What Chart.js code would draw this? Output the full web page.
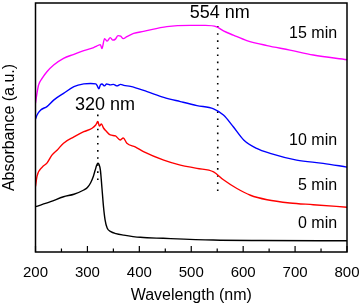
<!DOCTYPE html>
<html>
<head>
<meta charset="utf-8">
<script src="https://cdn.jsdelivr.net/npm/chart.js@4.4.0/dist/chart.umd.min.js"></script>
<style>
  html, body { margin: 0; padding: 0; background: #fff; }
  canvas { display: block; }
</style>
</head>
<body>
<canvas id="chart" width="361" height="306"></canvas>
<script>
// Espectros (nm / absorbancia en unidades arbitrarias, con offset)
const wl0  = [200, 229, 254, 274, 293, 300, 306, 311, 315, 318, 320, 322, 325, 328, 331, 334, 338, 345, 355, 370, 402, 446, 542, 633, 800];
const abs0 = [18.2, 20.2, 22.2, 23.2, 24.9, 25.9, 27.7, 30.1, 32.9, 34.9, 35.7, 35.3, 32.9, 25.7, 18.1, 12.9, 9.6, 8.2, 7.4, 6.8, 5.9, 5.5, 4.8, 4.6, 4.5];

const wl5  = [200, 203, 213, 222, 232, 242, 254, 274, 293, 309, 316, 320, 323, 327, 331, 336, 344, 354, 363, 369, 376, 392, 408, 447, 479, 511, 543, 562, 588, 614, 646, 690, 735, 800];
const abs5 = [26.3, 30.5, 34.1, 35.7, 39.0, 41.0, 43.7, 46.2, 48.3, 49.7, 51.0, 52.4, 50.6, 51.4, 49.8, 48.6, 47.0, 46.6, 45.0, 45.8, 43.7, 42.2, 40.3, 36.9, 34.9, 33.6, 32.2, 29.0, 25.5, 22.8, 21.0, 19.7, 19.0, 18.0];

const wl10  = [200, 203, 210, 222, 235, 254, 274, 293, 306, 316, 319, 322, 325, 328, 333, 337, 344, 350, 357, 364, 370, 383, 415, 447, 479, 511, 543, 562, 581, 601, 626, 652, 703, 754, 800];
const abs10 = [53.4, 55.0, 57.0, 58.4, 61.0, 63.7, 66.4, 67.5, 67.7, 67.5, 66.7, 65.5, 67.1, 67.5, 66.7, 67.5, 67.1, 67.3, 66.7, 67.3, 66.9, 66.5, 64.4, 62.1, 60.4, 58.8, 57.5, 55.0, 50.3, 45.0, 41.6, 39.6, 36.9, 35.6, 34.1];

const wl15  = [200, 203, 206, 213, 222, 235, 254, 274, 293, 312, 318, 325, 328, 333, 338, 344, 349, 354, 359, 364, 369, 376, 389, 408, 453, 498, 527, 549, 562, 581, 607, 646, 690, 735, 800];
const abs15 = [59.8, 63.9, 67.1, 69.8, 72.4, 75.1, 77.8, 79.4, 80.9, 82.1, 82.7, 83.3, 81.7, 85.7, 84.7, 86.1, 85.1, 85.5, 86.9, 86.7, 85.7, 86.5, 87.8, 88.6, 90.5, 91.0, 91.0, 90.4, 88.8, 87.1, 84.9, 82.9, 81.1, 79.1, 77.2];

// Líneas punteadas de los picos
const peakWl   = [320, 551];
const peakLow  = [28.9, 24.5];
const peakHigh = [56.2, 92.4];

const xTicks = [200, 300, 400, 500, 600, 700, 800];

const seriesNames  = ['0 min', '5 min', '10 min', '15 min'];
const seriesColors = ['#000000', '#ff0000', '#0000ff', '#ff00ff'];

const toXY = (xs, ys) => xs.map((x, i) => ({ x: x, y: ys[i] }));

const datasets = [
    toXY(wl0, abs0), toXY(wl5, abs5), toXY(wl10, abs10), toXY(wl15, abs15)
].map((d, i) => ({
    label: seriesNames[i],
    data: d,
    borderColor: seriesColors[i],
    borderWidth: 1.4,
    pointRadius: 0,
    cubicInterpolationMode: 'monotone'
}));

peakWl.forEach((w, i) => {
    datasets.push({
        label: 'peak ' + w,
        data: [{ x: w, y: peakLow[i] }, { x: w, y: peakHigh[i] }],
        borderColor: '#000',
        borderWidth: 1.6,
        borderDash: [1.6, 5.5],
        pointRadius: 0
    });
});

// Textos dentro del gráfico (posición en unidades de datos)
const notes = [
    { text: '320 nm', x: 334, y: 59.0, size: 18, align: 'center' },
    { text: '554 nm', x: 555, y: 95.9, size: 18, align: 'center' },
    { text: '15 min', x: 781, y: 87.6, size: 16, align: 'right' },
    { text: '10 min', x: 781, y: 44.6, size: 16, align: 'right' },
    { text: '5 min',  x: 781, y: 26.5, size: 16, align: 'right' },
    { text: '0 min',  x: 781, y: 11.6, size: 16, align: 'right' }
];

const FONT = "Arial, 'Liberation Sans', sans-serif";

const frameAndTicks = {
    id: 'frameAndTicks',
    afterDatasetsDraw(chart) {
        const { ctx, chartArea: a, scales: { x, y } } = chart;
        ctx.save();
        ctx.strokeStyle = '#000';
        ctx.lineWidth = 1.5;
        ctx.strokeRect(a.left, a.top, a.right - a.left, a.bottom - a.top);

        // ticks hacia dentro: mayores cada 100, menores cada 50
        ctx.lineWidth = 1.2;
        ctx.beginPath();
        for (let v = 200; v <= 800; v += 50) {
            const px = x.getPixelForValue(v);
            const len = v % 100 === 0 ? 6 : 3.5;
            ctx.moveTo(px, a.bottom);
            ctx.lineTo(px, a.bottom - len);
        }
        ctx.stroke();

        ctx.fillStyle = '#000';
        ctx.textBaseline = 'middle';
        notes.forEach(n => {
            ctx.font = n.size + 'px ' + FONT;
            ctx.textAlign = n.align;
            ctx.fillText(n.text, x.getPixelForValue(n.x), y.getPixelForValue(n.y));
        });
        ctx.restore();
    }
};

new Chart(document.getElementById('chart'), {
    type: 'line',
    data: { datasets: datasets },
    options: {
        responsive: false,
        animation: false,
        layout: { padding: { top: 3, right: 14, left: 0, bottom: 0 } },
        plugins: {
            legend: { display: false },
            tooltip: { enabled: false }
        },
        scales: {
            x: {
                type: 'linear',
                min: 200,
                max: 800,
                afterBuildTicks: s => { s.ticks = xTicks.map(v => ({ value: v })); },
                afterFit: s => { s.height = 54; s.paddingLeft = 0; s.paddingRight = 0; },
                grid: { display: false },
                border: { display: false },
                ticks: { color: '#000', font: { size: 15, family: FONT }, padding: 4, maxRotation: 0 },
                title: {
                    display: true,
                    text: 'Wavelength (nm)',
                    color: '#000',
                    font: { size: 16, family: FONT },
                    padding: { top: 0, bottom: 1 }
                }
            },
            y: {
                min: 0,
                max: 100,
                afterFit: s => { s.width = 35.5; s.paddingTop = 0; s.paddingBottom = 0; },
                grid: { display: false },
                border: { display: false },
                ticks: { display: false },
                title: {
                    display: true,
                    text: 'Absorbance (a.u.)',
                    color: '#000',
                    font: { size: 16, family: FONT },
                    padding: { top: 0, bottom: 0 }
                }
            }
        }
    },
    plugins: [frameAndTicks]
});
</script>
</body>
</html>
